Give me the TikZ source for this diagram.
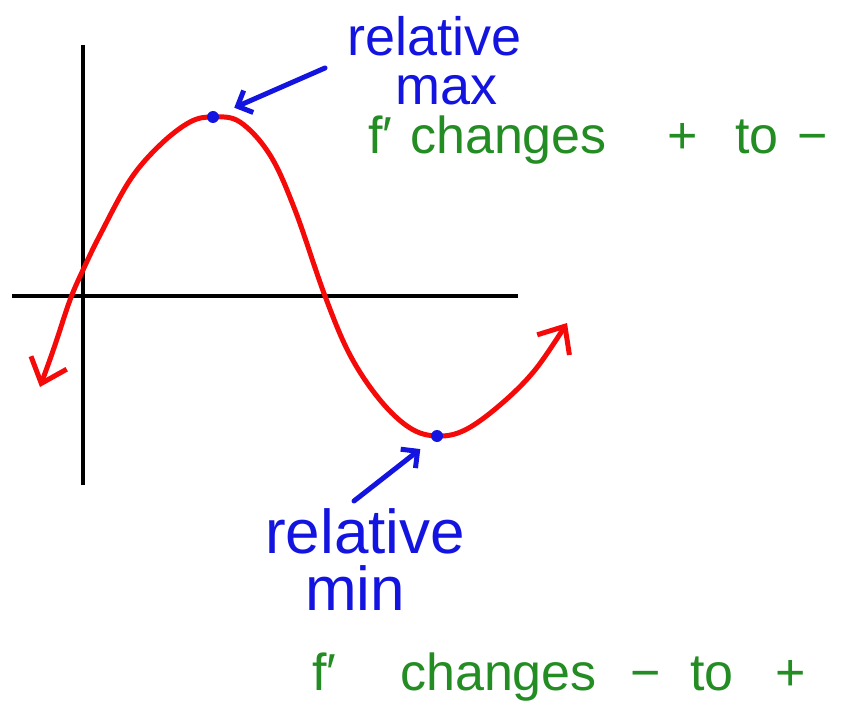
\documentclass[tikz,border=0pt]{standalone}
\usepackage{fontspec}
\setmainfont{Liberation Sans}
\usetikzlibrary{arrows.meta}
\definecolor{penred}{RGB}{245,10,10}
\definecolor{penblue}{RGB}{20,20,225}
\definecolor{pengreen}{RGB}{35,140,35}
\begin{document}
\begin{tikzpicture}[x=1pt,y=-1pt,
  axis/.style={line width=4.5pt},
  curve/.style={penred, line width=5pt, line cap=round, line join=round},
  extremum/.style={circle, fill=penblue, inner sep=0pt, minimum size=12pt},
  pointer/.style={penblue, line width=5pt, line cap=round, -{Straight Barb[length=12pt,width=24pt]}},
  bluetext/.style={penblue, inner sep=0pt, anchor=base west},
  greentext/.style={pengreen, inner sep=0pt, anchor=base west, font=\fontsize{52}{52}\selectfont}]
\useasboundingbox (0,0) rectangle (846,719);
% axes
\draw[axis] (83,45) -- (83,485);
\draw[axis] (12,296) -- (518,296);
% graph of f
\draw[curve, {Straight Barb[length=22pt,width=38pt]}-{Straight Barb[length=22pt,width=38pt]}]
  plot[smooth, tension=0.6] coordinates {(40,387) (55,345) (70,300) (83,270) (100,235)
    (130,180) (160,145) (190,122) (213,117) (240,122) (270,155) (295,210) (325,296)
    (350,355) (380,400) (410,428) (437,436) (465,430) (500,405) (535,370) (567,323)};
\node[extremum] (maxpt) at (213,117) {};
\node[extremum] (minpt) at (437,436) {};
% relative max
\node[bluetext, font=\fontsize{54}{54}\selectfont] (maxword) at (347,56) {relative};
\node[bluetext, font=\fontsize{54}{54}\selectfont] (maxname) at (395,105) {max};
\coordinate (maxtail) at (325,68);
\draw[pointer, shorten >=17pt] (maxtail) -- (maxpt);
\node[greentext] (maxf) at (368,154) {f′};
\node[greentext] (maxchanges) at (410,154) {changes};
\node[greentext] (maxfrom) at (667,154) {+};
\node[greentext] (maxto) at (735,154) {to};
\node[greentext] (maxinto) at (797,154) {−};
% relative min
\node[bluetext, font=\fontsize{62}{62}\selectfont] (minword) at (265,553) {relative};
\node[bluetext, font=\fontsize{62}{62}\selectfont] (minname) at (305,610) {min};
\coordinate (mintail) at (354,501);
\draw[pointer, shorten >=15pt] (mintail) -- (minpt);
\node[greentext] (minf) at (312,690) {f′};
\node[greentext] (minchanges) at (400,690) {changes};
\node[greentext] (minfrom) at (630,690) {−};
\node[greentext] (minto) at (690,690) {to};
\node[greentext] (mininto) at (775,690) {+};
\end{tikzpicture}
\end{document}
